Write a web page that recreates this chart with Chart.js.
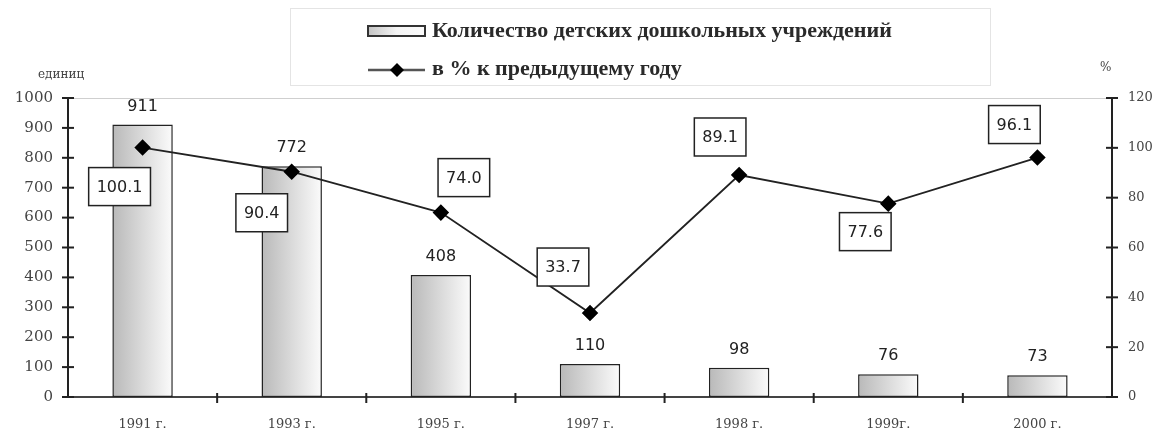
<!DOCTYPE html>
<html>
<head>
<meta charset="utf-8">
<script src="https://cdn.jsdelivr.net/npm/chart.js@4"></script>
<style>
  html, body { margin: 0; padding: 0; background: #fff; }
  #wrap { width: 1161px; height: 432px; }
</style>
</head>
<body>
<div id="wrap"><canvas id="kindergarten-chart"></canvas></div>
<script>
// data
const years = ['1991 г.', '1993 г.', '1995 г.', '1997 г.', '1998 г.', '1999г.', '2000 г.'];
const institutions = [911, 772, 408, 110, 98, 76, 73];
const percentPrev = [100.1, 90.4, 74.0, 33.7, 89.1, 77.6, 96.1];
const leftTicks = [0, 1000, 100];
const rightTicks = [0, 120, 20];

// where each % label box sits relative to its point (dx, dy)
const boxOffsets = [[-23, 39], [-30, 41], [23, -35], [-27, -46], [-19, -38], [-23, 28], [-23, -33]];

const serif = '"DejaVu Serif", serif';
const legendSerif = '"Liberation Serif", "Times New Roman", serif';
const sans = '"DejaVu Sans", Verdana, sans-serif';

// bar fill: grey on the left fading to white on the right
function barGradient(ctx) {
    const chart = ctx.chart;
    if (!chart.chartArea || !chart.scales.x) return '#d0d0d0';
    const x = chart.scales.x.getPixelForValue(ctx.dataIndex);
    const g = chart.ctx.createLinearGradient(x - 30, 0, x + 30, 0);
    g.addColorStop(0, '#b9b9b9');
    g.addColorStop(1, '#fbfbfb');
    return g;
}

// legend box, axis titles, ticks and value labels
const decorations = {
    id: 'decorations',
    afterDraw(chart) {
        const c = chart.ctx;
        const area = chart.chartArea;
        c.save();

        // thin top frame line
        c.strokeStyle = '#cfcfcf';
        c.lineWidth = 1;
        c.beginPath();
        c.moveTo(area.left, area.top + 0.5);
        c.lineTo(area.right, area.top + 0.5);
        c.stroke();

        // tick marks crossing the axes
        c.strokeStyle = '#222';
        c.lineWidth = 2;
        chart.scales.y.ticks.forEach(t => {
            const y = chart.scales.y.getPixelForValue(t.value);
            c.beginPath(); c.moveTo(area.left - 6, y); c.lineTo(area.left + 6, y); c.stroke();
        });
        chart.scales.y1.ticks.forEach(t => {
            const y = chart.scales.y1.getPixelForValue(t.value);
            c.beginPath(); c.moveTo(area.right - 6, y); c.lineTo(area.right + 6, y); c.stroke();
        });
        const xs = chart.scales.x;
        for (let i = 1; i < years.length; i++) {
            const x = (xs.getPixelForValue(i - 1) + xs.getPixelForValue(i)) / 2;
            c.beginPath(); c.moveTo(x, area.bottom - 4); c.lineTo(x, area.bottom + 6); c.stroke();
        }

        // axis titles
        c.fillStyle = '#444';
        c.font = '12px ' + serif;
        c.textAlign = 'left';
        c.textBaseline = 'middle';
        c.fillText('единиц', 38, 75);
        c.fillText('%', 1100, 68);

        // bar value labels
        c.font = '16px ' + sans;
        c.fillStyle = '#222';
        c.textAlign = 'center';
        chart.getDatasetMeta(0).data.forEach((bar, i) => {
            c.fillText(String(institutions[i]), bar.x, bar.y - 18);
        });

        // boxed % labels
        chart.getDatasetMeta(1).data.forEach((pt, i) => {
            const txt = percentPrev[i].toFixed(1);
            const w = c.measureText(txt).width + 16;
            const h = 38;
            const cx = pt.x + boxOffsets[i][0];
            const cy = pt.y + boxOffsets[i][1];
            c.fillStyle = '#fff';
            c.fillRect(cx - w / 2, cy - h / 2, w, h);
            c.strokeStyle = '#222';
            c.lineWidth = 1.5;
            c.strokeRect(cx - w / 2, cy - h / 2, w, h);
            c.fillStyle = '#222';
            c.fillText(txt, cx, cy + 1);
        });

        // legend
        c.strokeStyle = '#e4e4e4';
        c.lineWidth = 1;
        c.strokeRect(290.5, 8.5, 700, 77);
        const g = c.createLinearGradient(368, 0, 425, 0);
        g.addColorStop(0, '#c4c4c4');
        g.addColorStop(0.5, '#f4f4f4');
        g.addColorStop(1, '#fbfbfb');
        c.fillStyle = g;
        c.fillRect(368, 26, 57, 10);
        c.strokeStyle = '#333';
        c.lineWidth = 2;
        c.strokeRect(368, 26, 57, 10);
        c.strokeStyle = '#555';
        c.lineWidth = 2.5;
        c.beginPath(); c.moveTo(368, 70); c.lineTo(425, 70); c.stroke();
        c.fillStyle = '#000';
        c.beginPath();
        c.moveTo(397, 63); c.lineTo(404, 70); c.lineTo(397, 77); c.lineTo(390, 70);
        c.closePath(); c.fill();

        c.font = 'bold 22px ' + legendSerif;
        c.fillStyle = '#2a2a2a';
        c.textAlign = 'left';
        c.fillText(chart.data.datasets[0].label, 432, 31);
        c.fillText(chart.data.datasets[1].label, 432, 69);
        c.restore();
    }
};

const data = {
    labels: years,
    datasets: [{
        type: 'bar',
        label: 'Количество детских дошкольных учреждений',
        data: institutions,
        yAxisID: 'y',
        backgroundColor: barGradient,
        borderColor: '#222',
        borderWidth: 1.5,
        borderSkipped: false,
        categoryPercentage: 1,
        barPercentage: 0.405,
        order: 1
    }, {
        type: 'line',
        label: 'в % к предыдущему году',
        data: percentPrev,
        yAxisID: 'y1',
        borderColor: '#222',
        borderWidth: 1.8,
        pointStyle: 'rectRot',
        pointRadius: 7,
        pointBackgroundColor: '#000',
        pointBorderColor: '#000',
        tension: 0,
        order: 0
    }]
};

const plainTick = v => String(v);

const config = {
    data: data,
    plugins: [decorations],
    options: {
        responsive: true,
        maintainAspectRatio: false,
        animation: false,
        layout: { padding: { top: 98, left: 0, right: 0, bottom: 0 } },
        scales: {
            x: {
                grid: { display: false },
                border: { color: '#444', width: 2 },
                ticks: { color: '#444', font: { family: serif, size: 13 }, padding: 12 },
                afterFit: s => { s.height = 35; }
            },
            y: {
                position: 'left',
                min: leftTicks[0],
                max: leftTicks[1],
                grid: { display: false },
                border: { color: '#222', width: 2 },
                ticks: { stepSize: leftTicks[2], color: '#444', font: { family: serif, size: 15 }, padding: 7, callback: plainTick },
                afterFit: s => { s.width = 68; }
            },
            y1: {
                position: 'right',
                min: rightTicks[0],
                max: rightTicks[1],
                grid: { display: false },
                border: { color: '#222', width: 2 },
                ticks: { stepSize: rightTicks[2], color: '#444', font: { family: serif, size: 13 }, padding: 8, callback: plainTick },
                afterFit: s => { s.width = 49; }
            }
        },
        plugins: {
            legend: { display: false },
            tooltip: { enabled: false }
        }
    }
};

new Chart(document.getElementById('kindergarten-chart').getContext('2d'), config);
</script>
</body>
</html>
